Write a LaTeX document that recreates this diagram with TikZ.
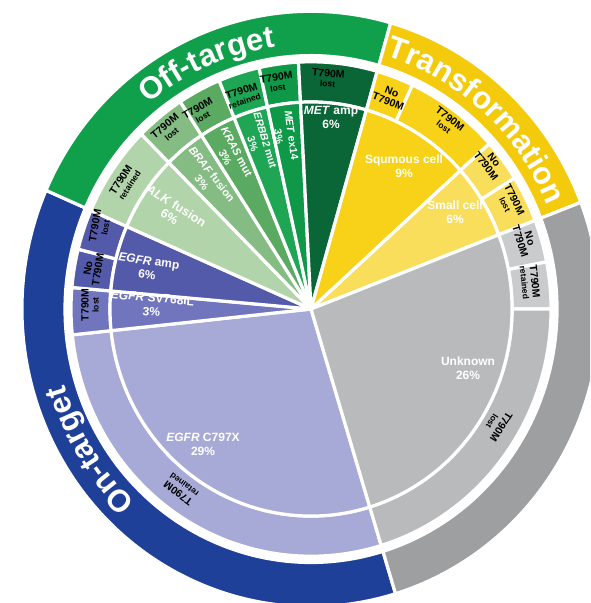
\documentclass[tikz,border=0pt]{standalone}
\usepackage{fontspec}
\setmainfont{Liberation Sans}
\usetikzlibrary{decorations.text}

\definecolor{ontarget}{RGB}{31,64,152}
\definecolor{offtarget}{RGB}{16,160,75}
\definecolor{transf}{RGB}{244,202,12}
\definecolor{unkout}{RGB}{158,159,161}
\definecolor{c797}{RGB}{167,170,214}
\definecolor{svblue}{RGB}{112,117,190}
\definecolor{ampblue}{RGB}{84,90,170}
\definecolor{alkgreen}{RGB}{178,212,170}
\definecolor{brafgreen}{RGB}{132,188,131}
\definecolor{krasgreen}{RGB}{90,170,98}
\definecolor{erbbgreen}{RGB}{30,166,84}
\definecolor{exgreen}{RGB}{14,152,72}
\definecolor{metgreen}{RGB}{10,102,55}
\definecolor{squyellow}{RGB}{248,210,24}
\definecolor{smallyellow}{RGB}{249,222,92}
\definecolor{unkgray}{RGB}{185,186,188}
\definecolor{boxgray}{RGB}{202,203,205}

\newcommand{\ys}{1.03}
% ring sector: colour, from, to, inner r, outer r
\newcommand{\slice}[5]{%
  \filldraw[piece=#1] (#2:#4) -- (#2:#5)
    arc[start angle=#2, end angle=#3, x radius=#5pt, y radius=\ys*#5pt]
    -- (#3:#4)
    arc[start angle=#3, end angle=#2, x radius=#4pt, y radius=\ys*#4pt] -- cycle;}
\newcommand{\tm}[1]{T790M\\{\fontsize{8.5}{9.5}\selectfont #1}}
\newcommand{\bandfont}{\fontsize{31}{34}\selectfont\bfseries}

\tikzset{
  piece/.style={fill=#1, draw=white, line width=3.2pt, line join=round},
  inlabel/.style={text=white, font=\bfseries\fontsize{12}{14}\selectfont, align=center, inner sep=0pt},
  narrow/.style={inlabel, font=\bfseries\fontsize{#1}{13}\selectfont},
  ringlabel/.style={text=black, font=\bfseries\fontsize{10.5}{10}\selectfont, align=center, inner sep=0pt},
  bandlabel/.style={decorate, decoration={text along path, text align=center, text color=white, text={|\bandfont|#1}}}
}

\begin{document}
\begin{tikzpicture}[x=1pt, y=\ys pt]
  \useasboundingbox (-311,-285.4) rectangle (279,300);
  \clip (-311,-285.4) rectangle (279,300);

  % outer band
  \slice{ontarget}{156.5}{287}{246}{289}
  \slice{offtarget}{74}{156.5}{246}{289}
  \slice{transf}{21}{74}{246}{289}
  \slice{unkout}{-73}{21}{246}{289}

  % T790M ring
  \slice{c797}{186}{287}{201}{240}
  \slice{svblue}{175}{186}{201}{240}
  \slice{ampblue}{166}{175}{201}{240}
  \slice{ampblue}{156.5}{166}{201}{240}
  \slice{alkgreen}{135}{156.5}{201}{240}
  \slice{brafgreen}{123}{135}{201}{240}
  \slice{krasgreen}{112.5}{123}{201}{240}
  \slice{erbbgreen}{102.5}{112.5}{201}{240}
  \slice{exgreen}{93}{102.5}{201}{240}
  \slice{metgreen}{74}{93}{201}{240}
  \slice{squyellow}{65}{74}{201}{240}
  \slice{squyellow}{42}{65}{201}{240}
  \slice{smallyellow}{32}{42}{201}{240}
  \slice{smallyellow}{21}{32}{201}{240}
  \slice{boxgray}{11}{21}{201}{240}
  \slice{boxgray}{0}{11}{201}{240}
  \slice{unkgray}{-73}{0}{201}{240}

  % inner pie
  \slice{c797}{186}{287}{0}{201}
  \slice{svblue}{175}{186}{0}{201}
  \slice{ampblue}{156.5}{175}{0}{201}
  \slice{alkgreen}{135}{156.5}{0}{201}
  \slice{brafgreen}{123}{135}{0}{201}
  \slice{krasgreen}{112.5}{123}{0}{201}
  \slice{erbbgreen}{102.5}{112.5}{0}{201}
  \slice{exgreen}{93}{102.5}{0}{201}
  \slice{metgreen}{74}{93}{0}{201}
  \slice{squyellow}{42}{74}{0}{201}
  \slice{smallyellow}{21}{42}{0}{201}
  \slice{unkgray}{-73}{21}{0}{201}

  % category names
  \path[bandlabel=Off-target] (153.4:257) arc[start angle=153.4, end angle=73.4, x radius=257pt, y radius=\ys*257pt];
  \path[bandlabel=Transformation] (98.4:257) arc[start angle=98.4, end angle=-1.6, x radius=257pt, y radius=\ys*257pt];
  \path[bandlabel=On-target] (252:257) arc[start angle=252, end angle=172, x radius=257pt, y radius=\ys*257pt];

  % mutations
  \node[inlabel] (lblC797) at (-108,-131) {\textit{EGFR} C797X\\29\%};
  \node[inlabel, rotate=-5] (lblSV) at (-159,4) {\textit{EGFR} SV768IL\\3\%};
  \node[inlabel, rotate=-8] (lblAmp) at (-163,40) {\textit{EGFR} amp\\6\%};
  \node[narrow=12.5, rotate=-32] (lblALK) at (-138,95) {\textit{ALK} fusion\\6\%};
  \node[narrow=11, rotate=-52] (lblBRAF) at (-104,127) {\textit{BRAF} fusion\\3\%};
  \node[narrow=11, rotate=-62] (lblKRAS) at (-80,150) {\textit{KRAS} mut\\3\%};
  \node[narrow=10.5, rotate=-73] (lblERBB) at (-52,162) {\textit{ERBB2} mut\\3\%};
  \node[narrow=10.5, rotate=-82] (lblMETex) at (-26,168) {\textit{MET} ex14\\3\%};
  \node[inlabel] (lblMETamp) at (20,186) {\textit{MET} amp\\6\%};
  \node[inlabel] (lblSqu) at (93,139) {Squmous cell\\9\%};
  \node[inlabel] (lblSmall) at (144,94) {Small cell\\6\%};
  \node[inlabel] (lblUnk) at (157,-57) {Unknown\\26\%};

  % T790M status
  \node[ringlabel, rotate=144] (stC797) at (-130,-175) {\tm{retained}};
  \node[ringlabel, rotate=90] (stSV) at (-221,4) {\tm{lost}};
  \node[ringlabel, rotate=81] (stAmpNo) at (-218,39) {No\\T790M};
  \node[ringlabel, rotate=80] (stAmp) at (-211,80) {\tm{lost}};
  \node[ringlabel, rotate=57] (stALK) at (-186,123) {\tm{retained}};
  \node[ringlabel, rotate=40] (stBRAF) at (-143,174) {\tm{lost}};
  \node[ringlabel, rotate=30] (stKRAS) at (-111,191) {\tm{lost}};
  \node[ringlabel, rotate=18] (stERBB) at (-68,207) {\tm{retained}};
  \node[ringlabel, rotate=9] (stMETex) at (-34,220) {\tm{lost}};
  \node[ringlabel, rotate=-4] (stMETamp) at (17,224) {\tm{lost}};
  \node[ringlabel, rotate=-21] (stSquNo) at (79,206) {No\\T790M};
  \node[ringlabel, rotate=-37] (stSqu) at (136,181) {\tm{lost}};
  \node[ringlabel, rotate=-52] (stSmallNo) at (179,142) {No\\T790M};
  \node[ringlabel, rotate=-63] (stSmall) at (199,104) {\tm{lost}};
  \node[ringlabel, rotate=-73] (stUnkNo) at (214,67) {No\\T790M};
  \node[ringlabel, rotate=-84] (stUnkRet) at (219,26) {\tm{retained}};
  \node[ringlabel, rotate=-122] (stUnk) at (186,-112) {\tm{lost}};
\end{tikzpicture}
\end{document}
